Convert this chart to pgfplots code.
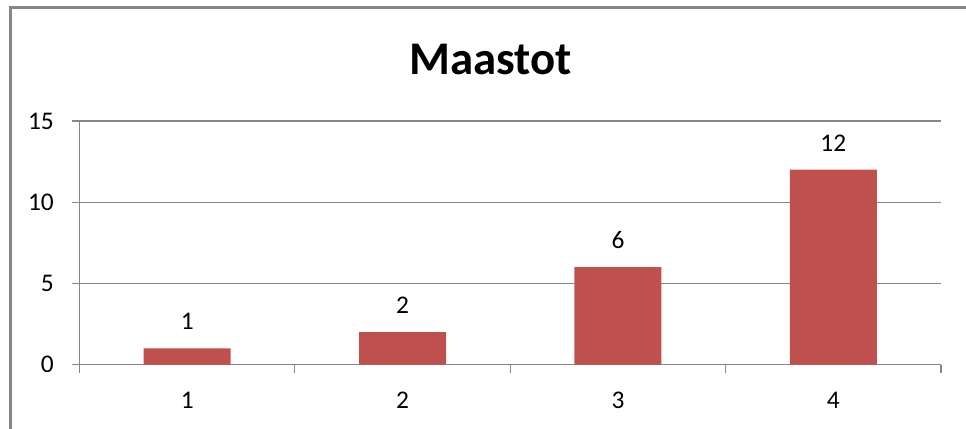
\documentclass[border=0pt]{standalone}
\usepackage{fontspec}
\setmainfont{Carlito}
\usepackage{pgfplots}
\pgfplotsset{compat=1.18}
\definecolor{barred}{HTML}{C0504D}
\definecolor{axgray}{HTML}{868686}
\begin{document}
\begin{tikzpicture}[x=1bp,y=1bp]
\path[use as bounding box] (0,0) rectangle (966,428);
\draw[axgray, line width=3bp] (10,-5) -- (10,420) -- (975,420);
\node[anchor=base, inner sep=0pt, font=\fontsize{47}{56}\selectfont\bfseries] at (490.5,354) {Maastot};
\begin{axis}[
  at={(79.5bp,63.5bp)}, anchor=south west,
  scale only axis, width=861.5bp, height=243.5bp,
  xmin=0.5, xmax=4.5, ymin=0, ymax=15,
  axis x line*=bottom, axis y line*=left,
  axis line style={axgray, line width=1.2bp, -},
  xtick={1,2,3,4}, minor xtick={0.5,1.5,2.5,3.5,4.5},
  ytick={0,5,10,15},
  major x tick style={draw=none},
  tick align=outside,
  major tick length=8bp, minor tick length=8bp,
  tick style={axgray, line width=1.2bp},
  ymajorgrids, grid style={axgray, line width=1.2bp},
  /pgf/number format/assume math mode=true,
  ticklabel style={font=\fontsize{25.5}{30}\selectfont, text=black},
  yticklabel style={anchor=east, inner sep=0pt, xshift=-17.5bp},
  xticklabel style={anchor=north, inner sep=0pt, yshift=-19.5bp},
  ybar, bar width=87bp,
  nodes near coords,
  every node near coord/.append style={font=\fontsize{25.5}{30}\selectfont, text=black, inner sep=0pt, anchor=south, yshift=18.5bp},
]
\addplot[fill=barred, draw=none] coordinates {(1,1) (2,2) (3,6) (4,12)};
\end{axis}
\end{tikzpicture}
\end{document}
